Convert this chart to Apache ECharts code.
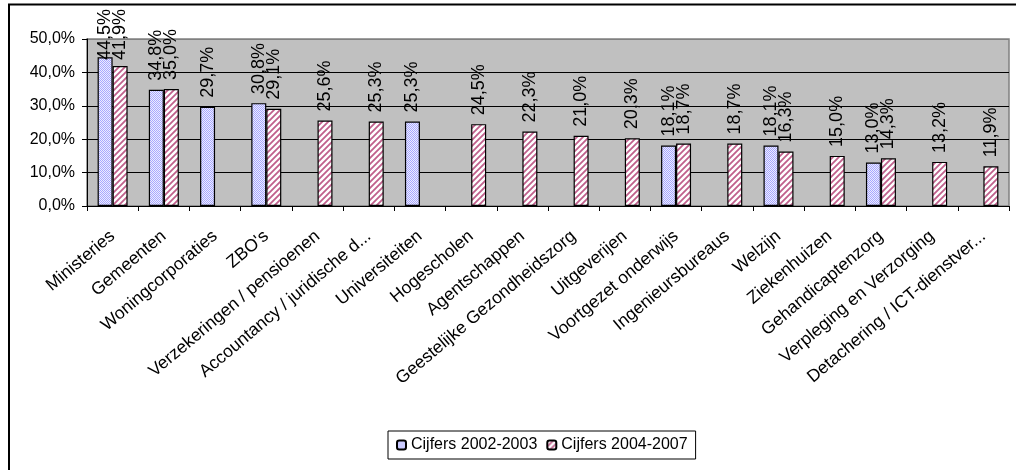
<!DOCTYPE html>
<html>
<head>
<meta charset="utf-8">
<script src="https://cdn.jsdelivr.net/npm/echarts@6/dist/echarts.min.js"></script>
<style>
html,body{margin:0;padding:0;background:#fff;}
#chart{width:1016px;height:470px;}
</style>
</head>
<body>
<div id="chart"></div>
<script>
var categories = ["Ministeries","Gemeenten","Woningcorporaties","ZBO's","Verzekeringen / pensioenen","Accountancy / juridische d...","Universiteiten","Hogescholen","Agentschappen","Geestelijke Gezondheidszorg","Uitgeverijen","Voortgezet onderwijs","Ingenieursbureaus","Welzijn","Ziekenhuizen","Gehandicaptenzorg","Verpleging en Verzorging","Detachering / ICT-dienstver..."];
var seriesNames = ["Cijfers 2002-2003","Cijfers 2004-2007"];
var values2002 = [44.5,34.8,29.7,30.8,null,null,25.3,null,null,null,null,18.1,null,18.1,null,13.0,null,null];
var values2004 = [41.9,35.0,null,29.1,25.6,25.3,null,24.5,22.3,21.0,20.3,18.7,18.7,16.3,15.0,14.3,13.2,11.9];
var yTicks = [0,10,20,30,40,50];

function makeChecker(){
  var c=document.createElement('canvas');c.width=2;c.height=2;
  var g=c.getContext('2d');
  g.fillStyle='#ECECFF';g.fillRect(0,0,2,2);
  g.fillStyle='#A8A8FF';g.fillRect(0,0,1,1);g.fillRect(1,1,1,1);
  return c;
}
function makeStripes(){
  var s=6;var c=document.createElement('canvas');c.width=s;c.height=s;
  var g=c.getContext('2d');
  g.fillStyle='#FFFFFF';g.fillRect(0,0,s,s);
  g.strokeStyle='#C0608C';g.lineWidth=1.8;
  g.beginPath();
  g.moveTo(0,s);g.lineTo(s,0);
  g.moveTo(-s/2,s/2);g.lineTo(s/2,-s/2);
  g.moveTo(s/2,s*1.5);g.lineTo(s*1.5,s/2);
  g.stroke();
  return c;
}
var blueFill={image:makeChecker(),repeat:'repeat'};
var pinkFill={image:makeStripes(),repeat:'repeat'};

function fmt(v){return v.toFixed(1).replace('.',',')+'%';}

var chart=echarts.init(document.getElementById('chart'));
var labelCfg={show:true,position:'top',rotate:90,align:'left',verticalAlign:'middle',distance:9,
  color:'#000',fontFamily:'Liberation Sans, Arial',fontSize:18,
  formatter:function(p){return fmt(p.value);}};
function keepInside(p){
  var r=p.labelRect;
  if(r && r.y<9){return {y:9+r.height};}
  return {};
}
chart.setOption({
  animation:false,
  graphic:[{type:'rect',shape:{x:9,y:4.5,width:1100,height:600},style:{fill:'none',stroke:'#000',lineWidth:2},silent:true}],
  grid:{left:87,right:7,top:39,bottom:264,show:true,backgroundColor:'#C0C0C0',borderColor:'#808080',borderWidth:1.5},
  legend:{left:388,top:431,data:seriesNames,orient:'horizontal',
    backgroundColor:'#fff',borderColor:'#000',borderWidth:1,padding:[6,8,6,8],
    itemWidth:9,itemHeight:9,itemGap:9,
    textStyle:{fontFamily:'Liberation Sans, Arial',fontSize:16,color:'#000'}},
  xAxis:{type:'category',data:categories,
    axisLine:{lineStyle:{color:'#000',width:1}},
    axisTick:{show:true,length:5,lineStyle:{color:'#000'}},
    axisLabel:{rotate:40,interval:0,margin:28,color:'#000',fontFamily:'Liberation Sans, Arial',fontSize:17.5}},
  yAxis:{type:'value',min:0,max:50,interval:10,
    axisLine:{show:true,lineStyle:{color:'#000',width:1}},
    axisTick:{show:true,length:5,lineStyle:{color:'#000'}},
    splitLine:{show:true,lineStyle:{color:['#000','#000','#000','#000','#000','#808080'],width:1}},
    axisLabel:{margin:12,color:'#000',fontFamily:'Liberation Sans, Arial',fontSize:16,formatter:function(v){return fmt(v);}}},
  series:[
    {name:seriesNames[0],type:'bar',data:values2002,barWidth:15,barGap:'0%',
      itemStyle:{color:blueFill,borderColor:'#000',borderWidth:1.2},label:labelCfg,labelLayout:keepInside},
    {name:seriesNames[1],type:'bar',data:values2004,barWidth:15,barGap:'0%',
      itemStyle:{color:pinkFill,borderColor:'#000',borderWidth:1.2},label:labelCfg,labelLayout:keepInside}
  ]
});
</script>
</body>
</html>
